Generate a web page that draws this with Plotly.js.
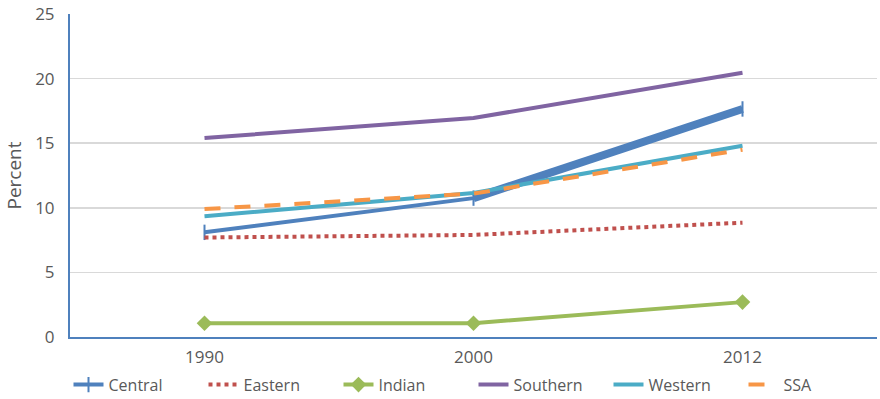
<!DOCTYPE html>
<html>
<head>
<meta charset="utf-8">
<script src="https://cdn.plot.ly/plotly-3.0.1.min.js"></script>
<style>html,body{margin:0;padding:0;background:#fff;}#chart{width:880px;height:399px;}</style>
</head>
<body>
<div id="chart"></div>
<script>
// Share of population by region, sub-Saharan Africa
const years = ['1990', '2000', '2012'];
const central  = [8.1, 10.75, 17.65];
const eastern  = [7.7, 7.9, 8.85];
const indian   = [1.07, 1.07, 2.7];
const southern = [15.4, 16.95, 20.45];
const western  = [9.35, 11.15, 14.8];
const ssa      = [9.9, 11.1, 14.5];

const traces = [
  {name: 'Central', x: years, y: central, mode: 'lines+markers',
   line: {color: '#4F81BD', width: 4},
   marker: {symbol: 'line-ns', size: 11, line: {color: '#4F81BD', width: 2}}},
  // heavier stroke on the later Central segment
  {name: 'Central', x: years.slice(1), y: central.slice(1), mode: 'lines',
   showlegend: false, line: {color: '#4F81BD', width: 8}},
  {name: 'Eastern', x: years, y: eastern, mode: 'lines',
   line: {color: '#C0504D', width: 4, dash: 'dot'}},
  {name: 'Indian', x: years, y: indian, mode: 'lines+markers',
   line: {color: '#9BBB59', width: 4},
   marker: {symbol: 'diamond', size: 12, color: '#9BBB59'}},
  {name: 'Southern', x: years, y: southern, mode: 'lines',
   line: {color: '#8064A2', width: 4}},
  {name: 'Western', x: years, y: western, mode: 'lines',
   line: {color: '#4BACC6', width: 4}},
  {name: 'SSA', x: years, y: ssa, mode: 'lines',
   line: {color: '#F79646', width: 4, dash: '16px,14px'}}
];

const font = {family: 'Open Sans, Liberation Sans, sans-serif', size: 17, color: '#595959'};

const layout = {
  width: 880, height: 399,
  margin: {l: 70, r: 3, t: 14, b: 62, autoexpand: false},
  paper_bgcolor: '#fff', plot_bgcolor: '#fff',
  font: font,
  showlegend: true,
  legend: {orientation: 'h', x: 0.5, xanchor: 'center', y: -0.095, yanchor: 'top',
           font: {family: 'Open Sans, Liberation Sans, sans-serif', size: 16, color: '#595959'},
           traceorder: 'normal', entrywidth: 90},
  xaxis: {type: 'category', range: [-0.5, 2.5], showgrid: false, zeroline: false,
          showline: true, linecolor: '#4F81BD', linewidth: 2, ticks: '',
          ticklabelstandoff: 4, tickfont: font},
  yaxis: {range: [0, 25], dtick: 5, showgrid: true, gridcolor: '#D9D9D9', gridwidth: 1.5,
          zeroline: false, showline: true, linecolor: '#4F81BD', linewidth: 2, ticks: '',
          ticklabelstandoff: 10, tickfont: font,
          title: {text: 'Percent', font: {family: 'Open Sans, Liberation Sans, sans-serif', size: 19, color: '#595959'}, standoff: 8}}
};

Plotly.newPlot('chart', traces, layout, {displayModeBar: false, staticPlot: true});
</script>
</body>
</html>
